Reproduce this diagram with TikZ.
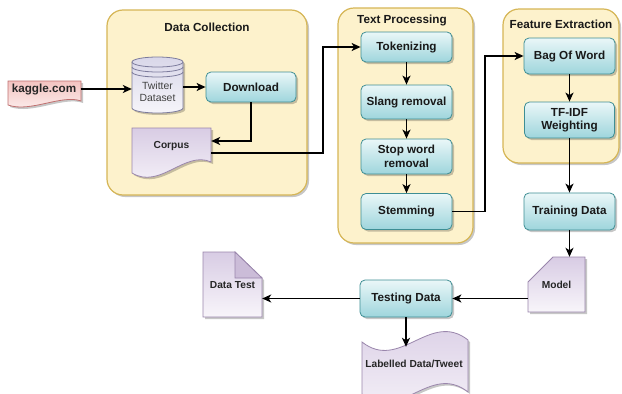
\documentclass[tikz,border=0pt]{standalone}
\usepackage{fontspec}
\setmainfont{Liberation Sans}
\usetikzlibrary{calc,arrows.meta,shadows}
\definecolor{grpfill}{HTML}{FDF2CC}
\definecolor{grpdraw}{HTML}{D6B656}
\definecolor{tealtop}{HTML}{EAF7F8}
\definecolor{tealbot}{HTML}{9ED5DC}
\definecolor{tealdraw}{HTML}{3E8E94}
\definecolor{lavtop}{HTML}{D8CCE4}
\definecolor{lavbot}{HTML}{F8F5FA}
\definecolor{lavdraw}{HTML}{9A86AC}
\definecolor{lavfold}{HTML}{CBBCD8}
\definecolor{pinktop}{HTML}{F3C3C1}
\definecolor{pinkbot}{HTML}{FDF2F1}
\definecolor{pinkdraw}{HTML}{C07070}
\definecolor{cyltop}{HTML}{D9D7E9}
\definecolor{cylbot}{HTML}{F6F5FA}
\definecolor{cyldraw}{HTML}{7C7B9C}
\begin{document}
\begin{tikzpicture}[x=1pt,y=-1pt,
 shad/.style={drop shadow={shadow xshift=2pt,shadow yshift=-2pt,opacity=0.22,fill=black}},
 grp/.style={draw=grpdraw,fill=grpfill,line width=1.2pt,rounded corners=16pt,shad},
 ttl/.style={font=\fontsize{11.7}{14}\selectfont\bfseries,text=black!90,inner sep=0pt},
 proc/.style={rectangle,rounded corners=5pt,draw=tealdraw,line width=0.8pt,top color=tealtop,bottom color=tealbot,shad,align=center,inner sep=1pt,font=\fontsize{11.7}{13.5}\selectfont\bfseries,text=black!90},
 lav/.style={draw=lavdraw,line width=0.8pt,top color=lavtop,bottom color=lavbot,shad},
 lbl/.style={rectangle,inner sep=0pt,align=center,font=\fontsize{10.2}{12}\selectfont\bfseries,text=black!85},
 arr/.style={line width=1.5pt,-{Stealth[length=9pt,width=8pt,inset=2.5pt]}}
]
\fill[white] (0,0) rectangle (622,394);
\useasboundingbox (0,0) rectangle (622,394);

% groups
\path[grp] (107,10) rectangle (307,195);
\path[grp] (338,8) rectangle (473,243);
\path[grp] (503,9) rectangle (619,163);
\node[ttl] (tDC) at (207,27) {Data Collection};
\node[ttl] (tTP) at (402,20) {Text Processing};
\node[ttl] (tFE) at (561,24) {Feature Extraction};

% kaggle document shape
\path[draw=pinkdraw,line width=0.8pt,top color=pinktop,bottom color=pinkbot,shad]
  (8,81) -- (81,81) -- (81,101) .. controls (62,94) and (30,113) .. (8,105) -- cycle;
% cylinder
\path[draw=cyldraw,line width=0.8pt,top color=cyltop,bottom color=cylbot,shad]
  (132,62) -- (132,108) arc[start angle=180,end angle=360,x radius=25.5pt,y radius=5pt]
  -- (183,62) arc[start angle=0,end angle=180,x radius=25.5pt,y radius=5pt] -- cycle;
\draw[cyldraw,line width=0.8pt] (132,62) arc[start angle=180,end angle=360,x radius=25.5pt,y radius=5pt];
\draw[cyldraw,line width=0.8pt] (132,67) arc[start angle=180,end angle=360,x radius=25.5pt,y radius=5pt];
\draw[cyldraw,line width=0.8pt] (132,72) arc[start angle=180,end angle=360,x radius=25.5pt,y radius=5pt];
% corpus document shape
\path[lav] (132,128) -- (211,128) -- (211,162) .. controls (185,150) and (160,190) .. (132,173) -- cycle;
% model card
\path[lav] (553,257) -- (585,257) -- (585,312) -- (528,312) -- (528,282) -- cycle;
% data test note
\path[lav] (203,252) -- (235,252) -- (262,278) -- (262,317) -- (203,317) -- cycle;
\path[draw=lavdraw,line width=0.8pt,fill=lavfold] (235,252) -- (235,278) -- (262,278) -- cycle;
% labelled tape
\path[lav] (362,342) .. controls (400,372) and (430,310) .. (468,340) -- (468,392)
  .. controls (430,362) and (400,424) .. (362,394) -- cycle;

% nodes
\node[lbl,minimum width=73pt,minimum height=16pt,font=\fontsize{11.7}{14}\selectfont\bfseries] (kaggle) at (44,89) {kaggle.com};
\node[lbl,font=\fontsize{10.4}{12}\selectfont,text=black!75,minimum width=51pt,minimum height=50pt] (twit) at (157.5,92) {Twitter\\Dataset};
\node[proc,minimum width=90pt,minimum height=30pt] (dl) at (251,87) {Download};
\node[lbl,minimum width=79pt,minimum height=30pt] (corpus) at (171.5,146) {Corpus};

\node[proc,minimum width=91pt,minimum height=30pt] (tok) at (406.5,47) {Tokenizing};
\node[proc,minimum width=91pt,minimum height=34pt] (slang) at (406.5,102) {Slang removal};
\node[proc,minimum width=91pt,minimum height=35pt] (stop) at (406.5,156.5) {Stop word\\removal};
\node[proc,minimum width=91pt,minimum height=36pt] (stem) at (406.5,211.5) {Stemming};

\node[proc,minimum width=91pt,minimum height=36pt] (bow) at (569.5,56) {Bag Of Word};
\node[proc,minimum width=90pt,minimum height=36pt] (tfidf) at (569.5,120) {TF-IDF\\Weighting};
\node[proc,minimum width=91pt,minimum height=37pt] (train) at (569.5,211.5) {Training Data};

\node[lbl,minimum width=57pt,minimum height=55pt] (model) at (556.5,284.5) {Model};
\node[proc,minimum width=92pt,minimum height=37pt] (test) at (406,298.5) {Testing Data};
\node[lbl,minimum width=59pt,minimum height=30pt] (dtest) at (232.5,285) {Data Test};
\node[lbl,minimum width=106pt,minimum height=34pt] (lab) at (414,364) {Labelled Data/Tweet};

% connectors
\coordinate (b1) at (323,153);
\coordinate (b2) at (485,211.5);
\draw[arr] (kaggle.east) -- (kaggle.east -| twit.west);
\draw[arr] (twit.east |- dl.west) -- (dl.west);
\draw[arr] (dl.south) |- ($(corpus.east)+(0,-5)$);
\draw[arr] ($(corpus.east)+(0,7)$) -- (b1) |- (tok.west);
\draw[arr] (tok) -- (slang);
\draw[arr] (slang) -- (stop);
\draw[arr] (stop) -- (stem);
\draw[arr] (stem.east) -- (b2) |- (bow.west);
\draw[arr] (bow) -- (tfidf);
\draw[arr] (tfidf) -- (train);
\draw[arr] (train.south) -- (train.south |- model.north);
\draw[arr] (model.west |- test.east) -- (test.east);
\draw[arr] (test.west) -- (test.west -| dtest.east);
\draw[arr] (test.south) -- (test.south |- lab.north);
\end{tikzpicture}
\end{document}
